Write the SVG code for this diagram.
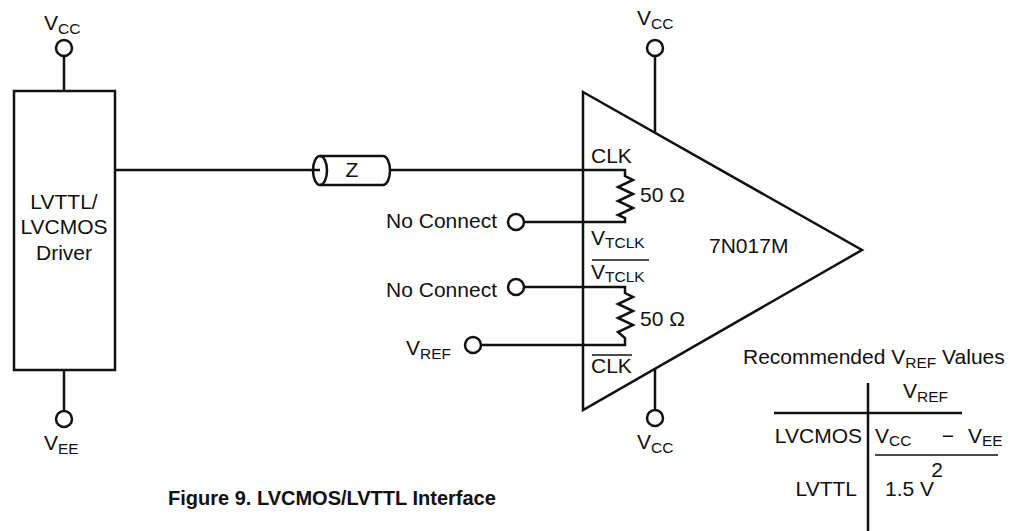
<svg xmlns="http://www.w3.org/2000/svg" width="1021" height="531" viewBox="0 0 1021 531">
<style>
text{font-family:"Liberation Sans",Arial,sans-serif;font-size:21px;fill:#111}
.sub{font-size:15.5px}
.b{font-weight:bold;font-size:20px}
.ln{stroke:#111;stroke-width:2.5;fill:none;stroke-linejoin:miter}
.ov{stroke:#111;stroke-width:1.6}
.pin{stroke:#111;stroke-width:2.5;fill:#fff}
</style>
<rect width="1021" height="531" fill="#fff"/>
<g id="connectors">
<line class="ln" x1="64" y1="56" x2="64" y2="91"/>
<line class="ln" x1="64" y1="370" x2="64" y2="411"/>
<line class="ln" x1="115" y1="170" x2="320" y2="170"/>
<line class="ln" x1="391" y1="170" x2="583" y2="170"/>
<line class="ln" x1="655" y1="56" x2="655" y2="133"/>
<line class="ln" x1="655" y1="369" x2="655" y2="410"/>
<polyline class="ln" points="583,170 625,170 625,176 633,180 618,187 633,194 618,201 633,208 618,215 625,218 625,222 524,222"/>
<polyline class="ln" points="524,287 625,287 625,293 633,297 618,304 633,311 618,318 633,325 618,332 625,338 625,345 481,345"/>
</g>
<g id="driver">
<rect class="ln" x="14" y="91" width="101" height="279"/>
<text x="64" y="209" text-anchor="middle">LVTTL/</text>
<text x="64" y="234" text-anchor="middle">LVCMOS</text>
<text x="64" y="260" text-anchor="middle">Driver</text>
</g>
<g id="vcc-driver">
<circle class="pin" cx="64" cy="48" r="8"/>
<text x="44" y="30">V<tspan class="sub" dy="4">CC</tspan></text>
</g>
<g id="vee-driver">
<circle class="pin" cx="64" cy="419" r="8"/>
<text x="44" y="450">V<tspan class="sub" dy="4">EE</tspan></text>
</g>
<g id="tline">
<path class="ln" d="M320,156 L383,156 A7,14.5 0 0 1 383,185 L320,185"/>
<ellipse class="ln" cx="320" cy="170.5" rx="7" ry="14.5" fill="#fff"/>
<text x="352" y="177" text-anchor="middle">Z</text>
</g>
<g id="receiver">
<polygon class="ln" points="583,92 862,250 583,410"/>
<text x="591" y="163">CLK</text>
<text x="591" y="245">V<tspan class="sub" dy="3">TCLK</tspan></text>
<line class="ov" x1="592" y1="260" x2="649" y2="260"/>
<text x="591" y="279">V<tspan class="sub" dy="3">TCLK</tspan></text>
<line class="ov" x1="592" y1="355" x2="632" y2="355"/>
<text x="591" y="373">CLK</text>
<text x="709" y="253">7N017M</text>
<text x="640" y="202">50 Ω</text>
<text x="640" y="326">50 Ω</text>
</g>
<g id="vcc-top">
<circle class="pin" cx="655" cy="48" r="8"/>
<text x="637" y="25">V<tspan class="sub" dy="4">CC</tspan></text>
</g>
<g id="vcc-bottom">
<circle class="pin" cx="655" cy="418" r="8"/>
<text x="637" y="449">V<tspan class="sub" dy="4">CC</tspan></text>
</g>
<g id="nc1">
<circle class="pin" cx="516" cy="222" r="8"/>
<text x="497" y="228" text-anchor="end">No Connect</text>
</g>
<g id="nc2">
<circle class="pin" cx="516" cy="287" r="8"/>
<text x="497" y="297" text-anchor="end">No Connect</text>
</g>
<g id="vref">
<circle class="pin" cx="473" cy="345" r="8"/>
<text x="406" y="355">V<tspan class="sub" dy="4">REF</tspan></text>
</g>
<g id="table">
<text x="743" y="364">Recommended V<tspan class="sub" dy="4">REF</tspan><tspan dy="-4"> Values</tspan></text>
<line class="ln" x1="868" y1="383" x2="868" y2="531"/>
<line class="ln" x1="774" y1="413" x2="962" y2="413"/>
<text x="903" y="398">V<tspan class="sub" dy="4">REF</tspan></text>
<text x="862" y="443" text-anchor="end">LVCMOS</text>
<text x="875" y="443">V<tspan class="sub" dy="3">CC</tspan></text>
<text x="948" y="443" text-anchor="middle">−</text>
<text x="968" y="443">V<tspan class="sub" dy="3">EE</tspan></text>
<line class="ov" x1="875" y1="455" x2="998" y2="455"/>
<text x="937" y="477" text-anchor="middle">2</text>
<text x="857" y="496" text-anchor="end">LVTTL</text>
<text x="885" y="496">1.5 V</text>
</g>
<text class="b" x="168" y="505">Figure 9. LVCMOS/LVTTL Interface</text>
</svg>
